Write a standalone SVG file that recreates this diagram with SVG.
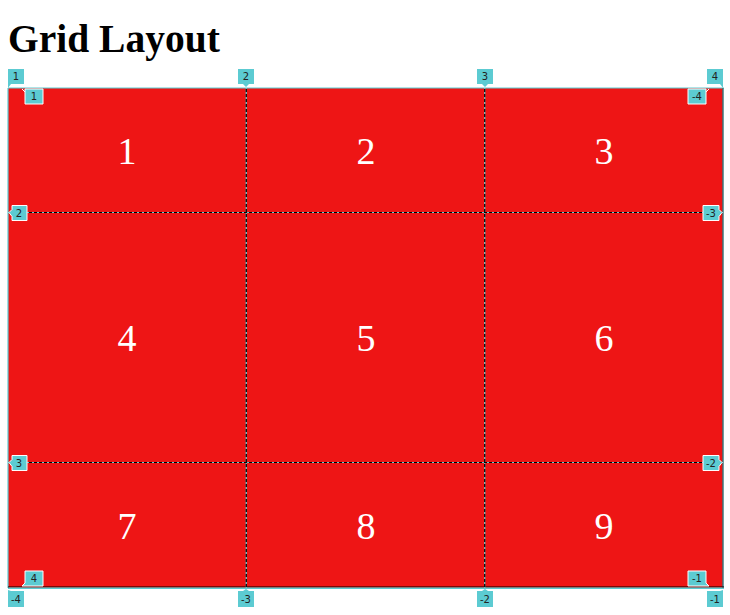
<svg xmlns="http://www.w3.org/2000/svg" width="730" height="615" viewBox="0 0 730 615">
<defs>
<style>
.title{font-family:"Liberation Serif",serif;font-weight:bold;font-size:39.5px;fill:#000}
.cell{fill:#ee1515}
.num{font-family:"Liberation Serif",serif;font-size:38px;fill:#fff;text-anchor:middle}
.lbl{fill:#5ccbd2;stroke:#fff;stroke-width:1}
.lbo{fill:#5ccbd2}
.lt{font-family:"DejaVu Sans","Liberation Sans",sans-serif;font-size:10px;fill:#222;text-anchor:middle}
.cy{stroke:#5ccbd2;stroke-width:1.2;fill:none}
.dash{stroke:#000;stroke-width:1.2;stroke-dasharray:3 2;fill:none}
</style>
</defs>
<rect width="730" height="615" fill="#fff"/>
<text class="title" x="8" y="52">Grid Layout</text>
<g id="cells">
<rect class="cell" x="8" y="88" width="715" height="499"/>
<text class="num" x="127" y="164">1</text>
<text class="num" x="366" y="164">2</text>
<text class="num" x="604" y="164">3</text>
<text class="num" x="127" y="351">4</text>
<text class="num" x="366" y="351">5</text>
<text class="num" x="604" y="351">6</text>
<text class="num" x="127" y="539">7</text>
<text class="num" x="366" y="539">8</text>
<text class="num" x="604" y="539">9</text>
</g>
<g id="lines">
<line x1="8" y1="88" x2="724" y2="88" class="cy"/>
<line x1="8" y1="88" x2="8" y2="588" class="cy"/>
<line x1="723" y1="88" x2="723" y2="588" class="cy"/>
<line x1="723" y1="88" x2="723" y2="587" stroke="#000" stroke-width="0.6"/>
<line x1="8" y1="587" x2="724" y2="587" stroke="#000" stroke-width="1.2"/>
<line x1="8" y1="588.5" x2="724" y2="588.5" class="cy"/>
<line x1="246.3" y1="88" x2="246.3" y2="588" class="cy"/>
<line x1="246.3" y1="89" x2="246.3" y2="587" class="dash"/>
<line x1="484.7" y1="88" x2="484.7" y2="588" class="cy"/>
<line x1="484.7" y1="89" x2="484.7" y2="587" class="dash"/>
<line x1="8" y1="212.5" x2="723" y2="212.5" class="cy"/>
<line x1="9" y1="212.5" x2="723" y2="212.5" class="dash"/>
<line x1="8" y1="462.5" x2="723" y2="462.5" class="cy"/>
<line x1="9" y1="462.5" x2="723" y2="462.5" class="dash"/>
</g>
<g id="labels">
<path class="lbo" d="M8 69h16v15h-13l-3 4z"/><text class="lt" x="16" y="80">1</text>
<path class="lbo" d="M238 69h16v15h-5l-3 3l-3 -3h-5z"/><text class="lt" x="246" y="80">2</text>
<path class="lbo" d="M477 69h16v15h-5l-3 3l-3 -3h-5z"/><text class="lt" x="485" y="80">3</text>
<path class="lbo" d="M707 69h16v19l-3 -4h-13z"/><text class="lt" x="715" y="80">4</text>
<path class="lbl" d="M22 89l3 3v-3h18v15h-18v-12z"/><text class="lt" x="34" y="100">1</text>
<path class="lbl" d="M688 89h18v3l3 -3l-3 3v12h-18z"/><text class="lt" x="697" y="100">-4</text>
<path class="lbl" d="M9 212.5l3 -3v-4h15v15h-15v-4z"/><text class="lt" x="19" y="216.5">2</text>
<path class="lbl" d="M9 462.5l3 -3v-4h15v15h-15v-4z"/><text class="lt" x="19" y="466.5">3</text>
<path class="lbl" d="M722 212.5l-3 -3v-4h-16v15h16v-4z"/><text class="lt" x="711" y="216.5">-3</text>
<path class="lbl" d="M722 462.5l-3 -3v-4h-16v15h16v-4z"/><text class="lt" x="711" y="466.5">-2</text>
<path class="lbl" d="M22 586l3 -3v-12h18v15z"/><text class="lt" x="34" y="582">4</text>
<path class="lbl" d="M688 571h18v12l3 3h-21z"/><text class="lt" x="697" y="582">-1</text>
<path class="lbo" d="M8 590l3 1h13v16h-16z"/><text class="lt" x="16" y="603">-4</text>
<path class="lbo" d="M238 591h5l3 -2l3 2h5v16h-16z"/><text class="lt" x="246" y="603">-3</text>
<path class="lbo" d="M477 591h5l3 -2l3 2h5v16h-16z"/><text class="lt" x="485" y="603">-2</text>
<path class="lbo" d="M707 591h13l3 -1v17h-16z"/><text class="lt" x="715" y="603">-1</text>
</g>
</svg>
